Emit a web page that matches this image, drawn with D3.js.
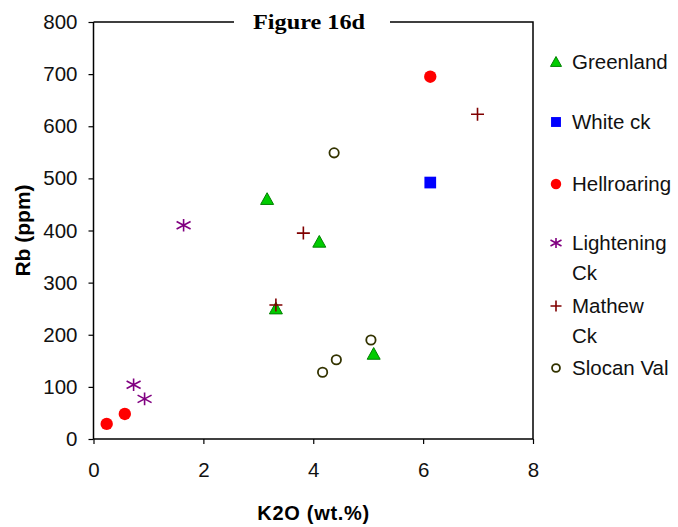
<!DOCTYPE html>
<html>
  <head>
    <script src="https://d3js.org/d3.v7.min.js"></script>
    <style>
      body { margin: 0; background: #fff; }
      text { font-family: "Liberation Sans", Arial, sans-serif; }
    </style>
  </head>
  <body>
    <script>
      // series data: K2O (wt.%) and Rb (ppm)
      var greenlandK2O = [3.32, 4.11, 5.10, 3.16];
      var greenlandRb  = [250, 378, 163, 460];
      var whiteK2O = [6.13];
      var whiteRb  = [492];
      var hellK2O = [6.13, 0.24, 0.57];
      var hellRb  = [695, 29, 48];
      var lightK2O = [1.64, 0.73, 0.93];
      var lightRb  = [410, 104, 77];
      var mathewK2O = [6.99, 3.82, 3.32];
      var mathewRb  = [623, 395, 257];
      var slocanK2O = [5.05, 4.42, 4.17, 4.38];
      var slocanRb  = [190, 152, 128, 549];

      var xTicks = [0, 2, 4, 6, 8];
      var yTicks = [0, 100, 200, 300, 400, 500, 600, 700, 800];

      var series = [
        {name: ["Greenland"], x: greenlandK2O, y: greenlandRb, sym: "tri", fill: "#00cc00", stroke: "#008000"},
        {name: ["White ck"], x: whiteK2O, y: whiteRb, sym: "sq", fill: "#0000ff", stroke: "#0000ff"},
        {name: ["Hellroaring"], x: hellK2O, y: hellRb, sym: "circ", fill: "#ff0000", stroke: "#ff0000"},
        {name: ["Lightening", "Ck"], x: lightK2O, y: lightRb, sym: "star", fill: "none", stroke: "#800080"},
        {name: ["Mathew", "Ck"], x: mathewK2O, y: mathewRb, sym: "plus", fill: "none", stroke: "#800000"},
        {name: ["Slocan Val"], x: slocanK2O, y: slocanRb, sym: "ring", fill: "#fff", stroke: "#333300"}
      ];

      var W = 678, H = 527;
      var pLeft = 93.5, pRight = 533, pTop = 22, pBottom = 439;

      var x = d3.scaleLinear().domain([0, 8]).range([pLeft, pRight]);
      var y = d3.scaleLinear().domain([0, 800]).range([pBottom, pTop]);

      var svg = d3.select("body").append("svg")
          .attr("width", W).attr("height", H);

      // frame: top line with gap for the title, right line
      svg.append("path")
          .attr("d", "M" + pLeft + "," + pTop + "H234 M390," + pTop + "H" + pRight + "V" + pBottom)
          .attr("fill", "none").attr("stroke", "#000").attr("stroke-width", 1.5);

      svg.append("text")
          .attr("x", 309).attr("y", pTop + 7)
          .attr("text-anchor", "middle")
          .style("font-family", "'Liberation Serif', 'Times New Roman', serif")
          .style("font-weight", "bold").style("font-size", "21px")
          .attr("textLength", 112).attr("lengthAdjust", "spacingAndGlyphs")
          .text("Figure 16d");

      // axes
      var xAxis = svg.append("g")
          .attr("transform", "translate(0," + pBottom + ")")
          .call(d3.axisBottom(x).tickValues(xTicks).tickSize(5).tickPadding(18).tickFormat(d3.format("d")));
      var yAxis = svg.append("g")
          .attr("transform", "translate(" + pLeft + ",0)")
          .call(d3.axisLeft(y).tickValues(yTicks).tickSize(5).tickPadding(11).tickFormat(d3.format("d")));

      [xAxis, yAxis].forEach(function(g) {
        g.select(".domain").attr("stroke-width", 1.5);
        g.selectAll(".tick line").attr("stroke-width", 1.2);
        g.selectAll("text").style("font-size", "20.5px").attr("fill", "#111")
          .style("font-family", "'Liberation Sans', Arial, sans-serif");
      });
      xAxis.select(".domain").attr("d", "M" + pLeft + ",0H" + pRight);
      yAxis.select(".domain").attr("d", "M0," + pTop + "V" + pBottom);

      svg.append("text")
          .attr("x", (pLeft + pRight) / 2).attr("y", 520)
          .attr("text-anchor", "middle")
          .style("font-weight", "bold").style("font-size", "20px")
          .attr("textLength", 112).attr("lengthAdjust", "spacing")
          .text("K2O (wt.%)");

      svg.append("text")
          .attr("transform", "translate(30," + (pTop + pBottom) / 2 + ") rotate(-90)")
          .attr("text-anchor", "middle")
          .style("font-weight", "bold").style("font-size", "21px")
          .text("Rb (ppm)");

      function drawSym(g, s, size) {
        var r = size / 2;
        if (s.sym === "tri") {
          g.append("path").attr("d", "M0," + (-r) + "L" + r + "," + (r * 0.8) + "L" + (-r) + "," + (r * 0.8) + "Z")
            .attr("fill", s.fill).attr("stroke", s.stroke).attr("stroke-width", 1);
        } else if (s.sym === "sq") {
          g.append("rect").attr("x", -r * 0.9).attr("y", -r * 0.9)
            .attr("width", r * 1.8).attr("height", r * 1.8).attr("fill", s.fill);
        } else if (s.sym === "circ") {
          g.append("circle").attr("r", r * 0.95).attr("fill", s.fill);
        } else if (s.sym === "ring") {
          g.append("circle").attr("r", r * 0.72).attr("fill", s.fill)
            .attr("stroke", s.stroke).attr("stroke-width", 1.8);
        } else if (s.sym === "plus") {
          g.append("path").attr("d", "M" + (-r) + ",0H" + r + "M0," + (-r) + "V" + r)
            .attr("stroke", s.stroke).attr("stroke-width", 1.6);
        } else if (s.sym === "star") {
          var a = r * 1.0, b = r * 0.9;
          g.append("path").attr("d", "M" + (-a) + "," + (-b * 0.6) + "L" + a + "," + (b * 0.6) + "M" + a + "," + (-b * 0.6) + "L" + (-a) + "," + (b * 0.6) + "M0," + (-b) + "V" + b)
            .attr("stroke", s.stroke).attr("stroke-width", 1.6);
        }
      }

      // points
      series.forEach(function(s) {
        var pts = s.x.map(function(v, i) { return [v, s.y[i]]; });
        svg.append("g").selectAll("g")
          .data(pts).enter().append("g")
          .attr("transform", function(d) { return "translate(" + x(d[0]) + "," + y(d[1]) + ")"; })
          .each(function() { drawSym(d3.select(this), s, s.sym === "star" ? 14 : 13); });
      });

      // legend
      var legendY = [62, 122, 184, 243, 306, 368];
      series.forEach(function(s, i) {
        var g = svg.append("g").attr("transform", "translate(556," + legendY[i] + ")");
        drawSym(g, s, 11);
        s.name.forEach(function(line, j) {
          g.append("text").attr("x", 16).attr("y", 7 + j * 29.5)
            .style("font-size", "20.5px").attr("fill", "#111").text(line);
        });
      });
    </script>
  </body>
</html>
